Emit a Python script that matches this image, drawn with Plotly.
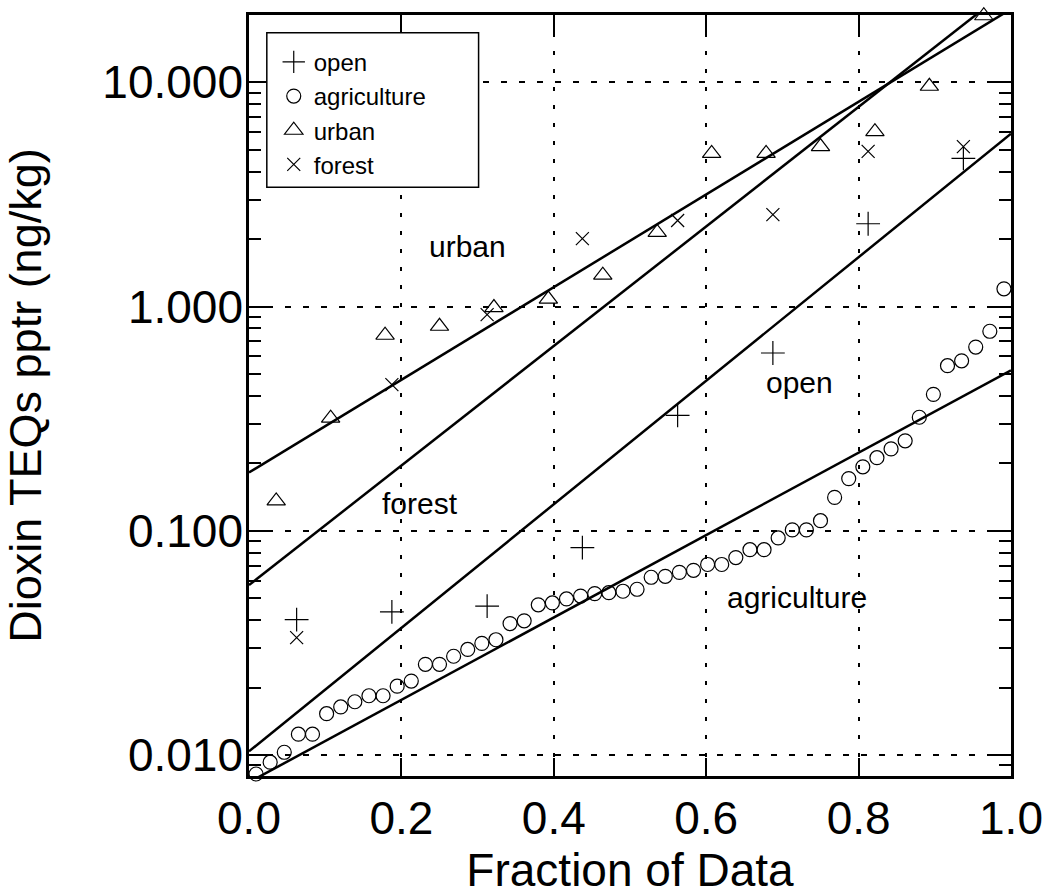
import math
import plotly.graph_objects as go

# ---------------- data ----------------
n_agri = 54
agri_x = [(i + 0.5) / n_agri for i in range(n_agri)]
agri_y = [0.00824, 0.0093, 0.0103, 0.0124, 0.0124, 0.0153, 0.0164, 0.0173, 0.0184, 0.0184,
          0.0203, 0.0214, 0.0254, 0.0254, 0.0276, 0.0296, 0.0315, 0.0327, 0.0386, 0.0397,
          0.0468, 0.0477, 0.0497, 0.0512, 0.0525, 0.0530, 0.0538, 0.0549, 0.0621, 0.0627,
          0.0653, 0.0667, 0.0708, 0.0708, 0.0760, 0.0824, 0.0824, 0.0930, 0.1010, 0.1010,
          0.111, 0.141, 0.171, 0.193, 0.212, 0.232, 0.252, 0.321, 0.406, 0.545,
          0.573, 0.660, 0.776, 1.20]

n_urban = 14
urban_x = [(i + 0.5) / n_urban for i in range(n_urban)]
urban_y = [0.136, 0.318, 0.745, 0.817, 0.99, 1.08, 1.38, 2.14, 4.82, 4.82, 5.17, 6.02, 9.6, 19.8]

n_small = 8
small_x = [(i + 0.5) / n_small for i in range(n_small)]
open_y = [0.0402, 0.0435, 0.0462, 0.0841, 0.327, 0.621, 2.34, 4.58]
forest_y = [0.0334, 0.449, 0.92, 2.01, 2.42, 2.57, 4.92, 5.17]

# fitted lines (value at fraction 0 and fraction 1)
fit_x = [0.0, 1.0]
fit_urban = [0.182, 21.2]
fit_forest = [0.0573, 26.5]
fit_open = [0.0104, 5.9]
fit_agri = [0.00757, 0.52]

y_ticks = [0.01, 0.1, 1, 10]
y_ticktext = ["0.010", "0.100", "1.000", "10.000"]
x_ticks = [0.0, 0.2, 0.4, 0.6, 0.8, 1.0]
x_ticktext = ["0.0", "0.2", "0.4", "0.6", "0.8", "1.0"]
minor_y = [0.009] + [m * d for d in (0.01, 0.1, 1) for m in range(2, 10)]

line_labels = ["urban", "forest", "open", "agriculture"]
label_pos_x = [0.287, 0.225, 0.722, 0.719]
label_pos_y = [1.85, 0.133, 0.46, 0.0505]

FONT = "Liberation Sans, Arial, sans-serif"

fig = go.Figure()

for fy in (fit_urban, fit_forest, fit_open, fit_agri):
    fig.add_trace(go.Scatter(x=fit_x, y=fy, mode="lines", showlegend=False,
                             line=dict(color="black", width=2.5), hoverinfo="skip"))

mk = dict(color="black", line=dict(color="black", width=1.2))
fig.add_trace(go.Scatter(x=small_x, y=open_y, mode="markers", name="open", cliponaxis=False,
                         marker=dict(symbol="cross-thin-open", size=17, **mk)))
fig.add_trace(go.Scatter(x=agri_x, y=agri_y, mode="markers", name="agriculture", cliponaxis=False,
                         marker=dict(symbol="circle-open", size=14, **mk)))
fig.add_trace(go.Scatter(x=urban_x, y=urban_y, mode="markers", name="urban", cliponaxis=False,
                         marker=dict(symbol="triangle-up-open", size=16, **mk)))
fig.add_trace(go.Scatter(x=small_x, y=forest_y, mode="markers", name="forest", cliponaxis=False,
                         marker=dict(symbol="x-thin-open", size=13, **mk)))

# in-plot labels (annotation y on a log axis is given as log10 of the value)
for t, lx, ly in zip(line_labels, label_pos_x, label_pos_y):
    fig.add_annotation(x=lx, y=math.log10(ly), yref="y", xref="x", text=t, showarrow=False,
                       font=dict(family=FONT, size=30, color="black"))

# legend frame
fig.add_shape(type="rect", xref="paper", yref="paper",
              x0=(267 - 249) / 770, x1=(481 - 249) / 770,
              y0=(784 - 189) / 769, y1=(784 - 33) / 769,
              line=dict(color="black", width=1.5), fillcolor="white", layer="above")

fig.update_layout(
    width=1055, height=896,
    margin=dict(l=249, r=36, t=15, b=112),
    paper_bgcolor="white", plot_bgcolor="white",
    font=dict(family=FONT, color="black"),
    showlegend=True,
    legend=dict(x=(274 - 249) / 770, y=(784 - 40) / 769, xanchor="left", yanchor="top",
                bgcolor="rgba(0,0,0,0)", borderwidth=0, tracegroupgap=0,
                font=dict(family=FONT, size=24, color="black")),
    xaxis=dict(range=[0, 1], tickvals=x_ticks, ticktext=x_ticktext,
               ticks="inside", ticklen=18, tickwidth=2, tickcolor="black",
               showline=True, linecolor="black", linewidth=2.5, mirror="ticks",
               showgrid=True, gridcolor="black", gridwidth=2, griddash="4px,14px",
               zeroline=False, tickfont=dict(family=FONT, size=46),
               title=dict(text="Fraction of Data", font=dict(family=FONT, size=46), standoff=8)),
    yaxis=dict(type="log", range=[-2.093, 1.300], tickvals=y_ticks, ticktext=y_ticktext,
               ticks="inside", ticklen=22, tickwidth=2, tickcolor="black",
               minor=dict(tickvals=minor_y, ticks="inside", ticklen=12, tickwidth=1.5,
                          tickcolor="black", showgrid=False),
               showline=True, linecolor="black", linewidth=2.5, mirror="allticks",
               showgrid=True, gridcolor="black", gridwidth=1.5, griddash="6px,12px",
               zeroline=False, tickfont=dict(family=FONT, size=46), ticklabelstandoff=-6,
               title=dict(text="Dioxin TEQs pptr (ng/kg)", font=dict(family=FONT, size=45), standoff=54)),
)

fig.write_html("out.html")
